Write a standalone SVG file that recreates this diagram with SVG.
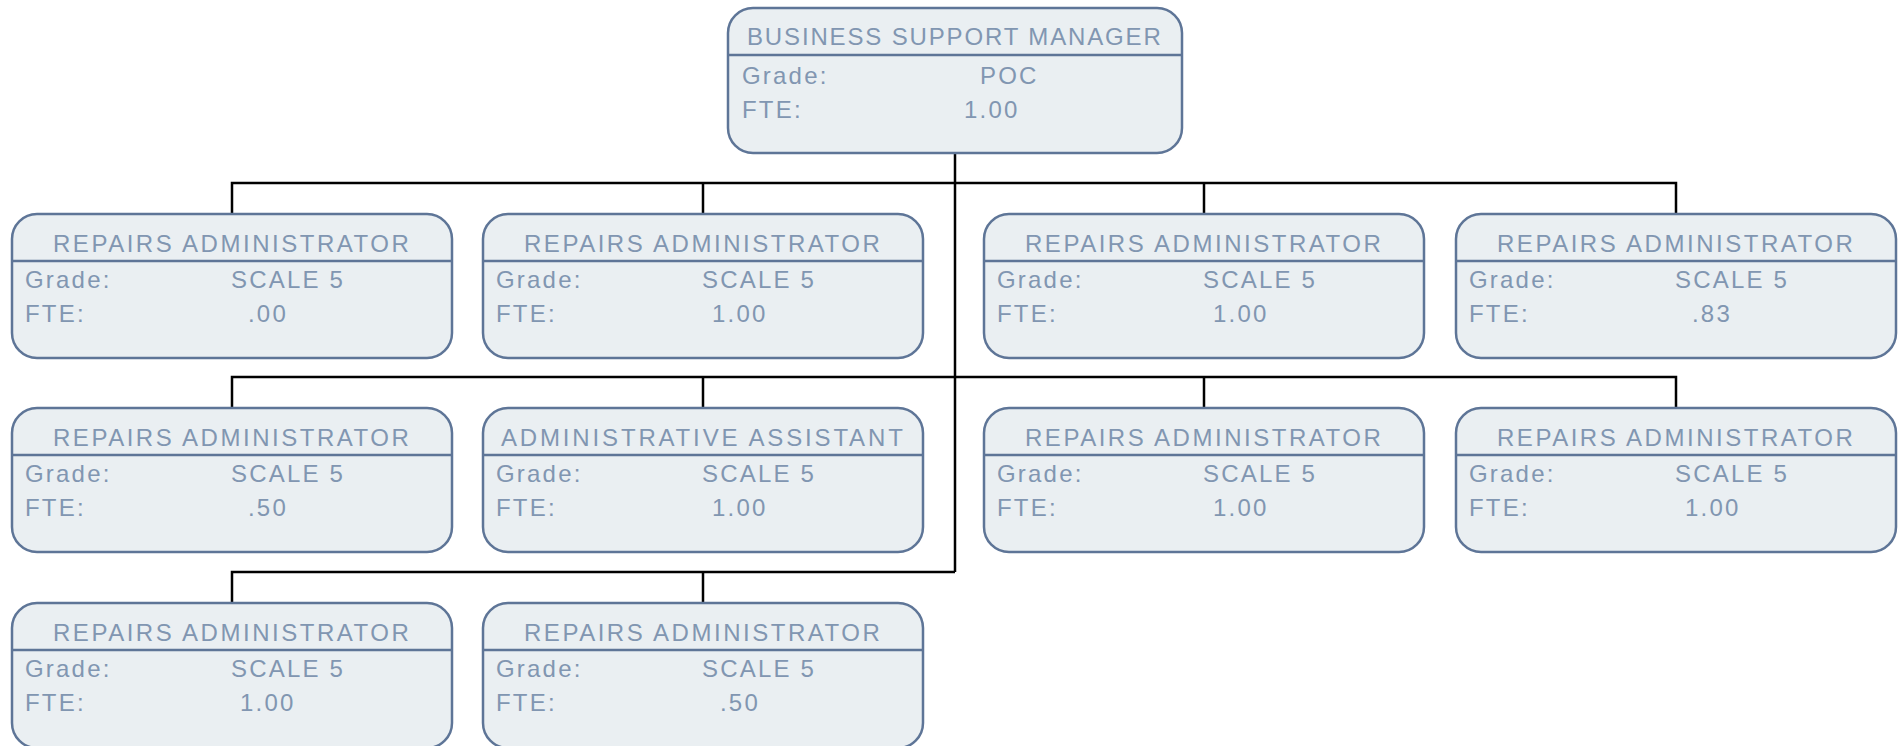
<svg xmlns="http://www.w3.org/2000/svg" width="1898" height="746" viewBox="0 0 1898 746">
<style>
.box{fill:#EAEFF2;stroke:#5E7597;stroke-width:2.5}
.div{stroke:#5E7597;stroke-width:2.5}
.t{font-family:"Liberation Sans",Arial,sans-serif;font-size:24px;fill:#8196B1;letter-spacing:2.2px}
.title{text-anchor:middle}
.con{fill:none;stroke:#000;stroke-width:2.5}
</style>
<rect width="1898" height="746" fill="#fff"/>
<g id="connectors">
<path class="con" d="M955 153V572"/>
<path class="con" d="M232 214V183H1676V214M703 183V214M1204 183V214"/>
<path class="con" d="M232 408V377H1676V408M703 377V408M1204 377V408"/>
<path class="con" d="M232 603V572H955M703 572V603"/>
</g>
<g id="n0">
<rect class="box" x="728" y="8" width="454" height="145" rx="25"/>
<line class="div" x1="728" y1="55" x2="1182" y2="55"/>
<text class="t title" x="955" y="45" textLength="416" lengthAdjust="spacing">BUSINESS SUPPORT MANAGER</text>
<text class="t" x="742" y="84">Grade:</text><text class="t" x="980" y="84">POC</text>
<text class="t" x="742" y="118">FTE:</text><text class="t" x="964" y="118">1.00</text>
</g>
<g id="n1">
<rect class="box" x="12" y="214" width="440" height="144" rx="25"/>
<line class="div" x1="12" y1="261" x2="452" y2="261"/>
<text class="t title" x="232" y="252" textLength="358" lengthAdjust="spacing">REPAIRS ADMINISTRATOR</text>
<text class="t" x="25" y="288">Grade:</text><text class="t" x="231" y="288">SCALE 5</text>
<text class="t" x="25" y="322">FTE:</text><text class="t" x="248" y="322">.00</text>
</g>
<g id="n2">
<rect class="box" x="483" y="214" width="440" height="144" rx="25"/>
<line class="div" x1="483" y1="261" x2="923" y2="261"/>
<text class="t title" x="703" y="252" textLength="358" lengthAdjust="spacing">REPAIRS ADMINISTRATOR</text>
<text class="t" x="496" y="288">Grade:</text><text class="t" x="702" y="288">SCALE 5</text>
<text class="t" x="496" y="322">FTE:</text><text class="t" x="712" y="322">1.00</text>
</g>
<g id="n3">
<rect class="box" x="984" y="214" width="440" height="144" rx="25"/>
<line class="div" x1="984" y1="261" x2="1424" y2="261"/>
<text class="t title" x="1204" y="252" textLength="358" lengthAdjust="spacing">REPAIRS ADMINISTRATOR</text>
<text class="t" x="997" y="288">Grade:</text><text class="t" x="1203" y="288">SCALE 5</text>
<text class="t" x="997" y="322">FTE:</text><text class="t" x="1213" y="322">1.00</text>
</g>
<g id="n4">
<rect class="box" x="1456" y="214" width="440" height="144" rx="25"/>
<line class="div" x1="1456" y1="261" x2="1896" y2="261"/>
<text class="t title" x="1676" y="252" textLength="358" lengthAdjust="spacing">REPAIRS ADMINISTRATOR</text>
<text class="t" x="1469" y="288">Grade:</text><text class="t" x="1675" y="288">SCALE 5</text>
<text class="t" x="1469" y="322">FTE:</text><text class="t" x="1692" y="322">.83</text>
</g>
<g id="n5">
<rect class="box" x="12" y="408" width="440" height="144" rx="25"/>
<line class="div" x1="12" y1="455" x2="452" y2="455"/>
<text class="t title" x="232" y="446" textLength="358" lengthAdjust="spacing">REPAIRS ADMINISTRATOR</text>
<text class="t" x="25" y="482">Grade:</text><text class="t" x="231" y="482">SCALE 5</text>
<text class="t" x="25" y="516">FTE:</text><text class="t" x="248" y="516">.50</text>
</g>
<g id="n6">
<rect class="box" x="483" y="408" width="440" height="144" rx="25"/>
<line class="div" x1="483" y1="455" x2="923" y2="455"/>
<text class="t title" x="703" y="446" textLength="404" lengthAdjust="spacing">ADMINISTRATIVE ASSISTANT</text>
<text class="t" x="496" y="482">Grade:</text><text class="t" x="702" y="482">SCALE 5</text>
<text class="t" x="496" y="516">FTE:</text><text class="t" x="712" y="516">1.00</text>
</g>
<g id="n7">
<rect class="box" x="984" y="408" width="440" height="144" rx="25"/>
<line class="div" x1="984" y1="455" x2="1424" y2="455"/>
<text class="t title" x="1204" y="446" textLength="358" lengthAdjust="spacing">REPAIRS ADMINISTRATOR</text>
<text class="t" x="997" y="482">Grade:</text><text class="t" x="1203" y="482">SCALE 5</text>
<text class="t" x="997" y="516">FTE:</text><text class="t" x="1213" y="516">1.00</text>
</g>
<g id="n8">
<rect class="box" x="1456" y="408" width="440" height="144" rx="25"/>
<line class="div" x1="1456" y1="455" x2="1896" y2="455"/>
<text class="t title" x="1676" y="446" textLength="358" lengthAdjust="spacing">REPAIRS ADMINISTRATOR</text>
<text class="t" x="1469" y="482">Grade:</text><text class="t" x="1675" y="482">SCALE 5</text>
<text class="t" x="1469" y="516">FTE:</text><text class="t" x="1685" y="516">1.00</text>
</g>
<g id="n9">
<rect class="box" x="12" y="603" width="440" height="145" rx="25"/>
<line class="div" x1="12" y1="650" x2="452" y2="650"/>
<text class="t title" x="232" y="641" textLength="358" lengthAdjust="spacing">REPAIRS ADMINISTRATOR</text>
<text class="t" x="25" y="677">Grade:</text><text class="t" x="231" y="677">SCALE 5</text>
<text class="t" x="25" y="711">FTE:</text><text class="t" x="240" y="711">1.00</text>
</g>
<g id="n10">
<rect class="box" x="483" y="603" width="440" height="145" rx="25"/>
<line class="div" x1="483" y1="650" x2="923" y2="650"/>
<text class="t title" x="703" y="641" textLength="358" lengthAdjust="spacing">REPAIRS ADMINISTRATOR</text>
<text class="t" x="496" y="677">Grade:</text><text class="t" x="702" y="677">SCALE 5</text>
<text class="t" x="496" y="711">FTE:</text><text class="t" x="720" y="711">.50</text>
</g>
</svg>
